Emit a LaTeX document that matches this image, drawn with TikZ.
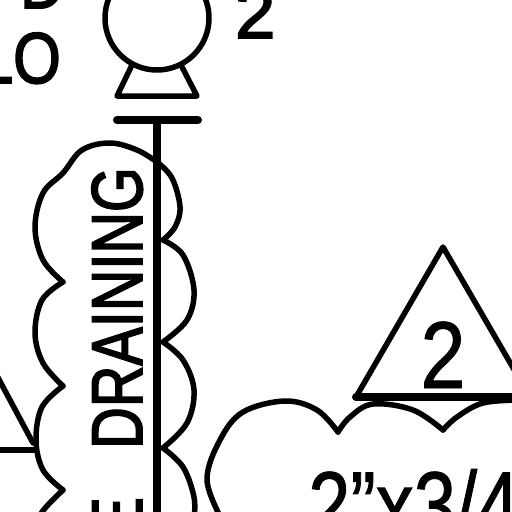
\documentclass[tikz,border=0pt]{standalone}
\usepackage{fontspec}
\setmainfont{Liberation Sans}[FakeBold=2.5]
\newfontfamily\cadbig{Liberation Sans}[FakeBold=1]
\newcommand{\cadsize}[1]{\fontsize{#1}{#1}\selectfont}
\newcommand{\narrowtext}[2]{\scalebox{#1}[1]{#2}}
\tikzset{
    cadline/.style = {draw, line width=5.5pt, line cap=round, line join=round},
    heavyline/.style = {draw, line width=8pt},
    smalltext/.style = {inner sep=0pt, font=\cadsize{72}},
    bigtext/.style = {inner sep=0pt, font=\cadbig\cadsize{95}}
}
\begin{document}
\begin{tikzpicture}[x=1pt,y=-1pt]
    \useasboundingbox (0,0) rectangle (512,512);
    \clip (0,0) rectangle (512,512);
    % letters at the left edge
    \node [smalltext, anchor=base west] (topletter) at (20,8) {\narrowtext{.85}{D}};
    \node [smalltext, anchor=base east] (lo) at (61,83) {\narrowtext{.85}{LO}};
    % pump symbol
    \node [smalltext, anchor=base west] (pumpno) at (235,38) {2};
    \coordinate (pump) at (157,18);
    \draw [cadline] (pump) circle (52pt);
    \coordinate (baseA) at (132,65);
    \coordinate (baseB) at (117,96);
    \coordinate (baseC) at (197,96);
    \coordinate (baseD) at (181,65);
    \draw [cadline] (baseA) -- (baseB) -- (baseC) -- (baseD);
    \coordinate (barL) at (117,120);
    \coordinate (barR) at (198,120);
    \coordinate (pipeT) at (157,120);
    \coordinate (pipeB) at (157,512);
    \draw [heavyline, line cap=round] (barL) -- (barR);
    \draw [heavyline] (pipeT) -- (pipeB);
    % cloud round the pipe
    \draw [cadline] plot [smooth, tension=.6] coordinates {(157,162) (137,150) (110,143) (82,150) (63,173) (43,193) (35,227) (43,260) (63,282)};
    \draw [cadline] plot [smooth, tension=.6] coordinates {(63,282) (42,300) (35,333) (43,363) (63,386)};
    \draw [cadline] plot [smooth, tension=.6] coordinates {(63,386) (42,407) (36,440) (43,470) (63,490)};
    \draw [cadline] plot [smooth, tension=.6] coordinates {(63,490) (42,512) (36,530)};
    \draw [cadline] plot [smooth, tension=.6] coordinates {(157,162) (172,178) (180,207) (175,227) (163,240)};
    \draw [cadline] plot [smooth, tension=.6] coordinates {(163,240) (183,255) (194,290) (187,320) (163,342)};
    \draw [cadline] plot [smooth, tension=.6] coordinates {(163,342) (183,360) (194,390) (187,423) (163,448)};
    \draw [cadline] plot [smooth, tension=.6] coordinates {(163,448) (183,467) (194,497) (194,520)};
    \node [smalltext, rotate=90, anchor=base west] (draining) at (142,449) {\narrowtext{.8}{DRAINING}};
    \node [smalltext, rotate=90, anchor=base east] (lastletter) at (142,497) {\narrowtext{.78}{E}};
    % part of a triangle at the left edge
    \coordinate (leftA) at (-5,372);
    \coordinate (leftB) at (33,443);
    \coordinate (leftC) at (36,450);
    \coordinate (leftD) at (-5,450);
    \draw [cadline] (leftA) -- (leftB);
    \draw [cadline] (leftC) -- (leftD);
    % revision triangle
    \coordinate (apex) at (443,247);
    \coordinate (triL) at (356,397);
    \coordinate (triR) at (530,397);
    \draw [cadline] (triL) -- (apex) -- (triR);
    \draw [heavyline, line cap=round] (triL) -- (triR);
    \node [bigtext, anchor=base] (revno) at (443,388) {\narrowtext{.85}{2}};
    % second cloud
    \draw [cadline] plot [smooth, tension=.6] coordinates {(222,520) (207,480) (220,440) (243,412) (285,401) (317,410) (338,432)};
    \draw [cadline] plot [smooth, tension=.6] coordinates {(338,432) (350,417) (373,404) (413,410) (443,430)};
    \draw [cadline] plot [smooth, tension=.6] coordinates {(443,430) (457,417) (483,403) (520,400)};
    \node [bigtext, anchor=base west] (size) at (308,538) {\narrowtext{.8}{2”x3/4}};
\end{tikzpicture}
\end{document}
